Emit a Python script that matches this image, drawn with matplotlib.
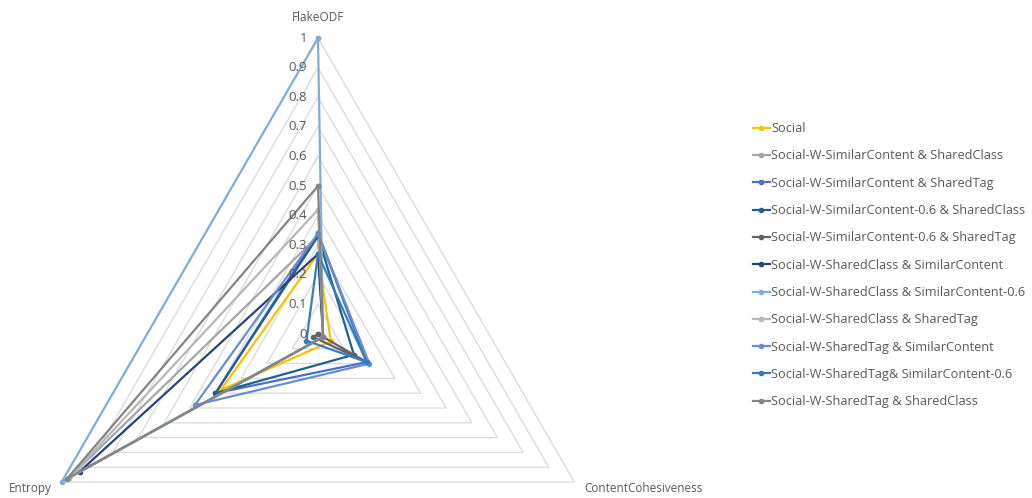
import numpy as np
import matplotlib.pyplot as plt

# axes of the radar chart
axes_names = ["FlakeODF", "ContentCohesiveness", "Entropy"]

social = [0.27, 0.05, 0.38]
simcontent_sharedclass = [0.33, 0.02, 0.97]
simcontent_sharedtag = [0.34, 0.19, 0.40]
simcontent06_sharedclass = [0.33, 0.14, 0.40]
simcontent06_sharedtag = [0.0, 0.19, 0.02]
sharedclass_simcontent = [0.27, 0.02, 0.93]
sharedclass_simcontent06 = [1.0, 0.02, 1.0]
sharedclass_sharedtag = [0.42, 0.02, 0.97]
sharedtag_simcontent = [0.34, 0.20, 0.48]
sharedtag_simcontent06 = [0.27, 0.19, 0.045]
sharedtag_sharedclass = [0.50, 0.02, 0.98]

series_names = [
    "Social",
    "Social-W-SimilarContent & SharedClass",
    "Social-W-SimilarContent & SharedTag",
    "Social-W-SimilarContent-0.6 & SharedClass",
    "Social-W-SimilarContent-0.6 & SharedTag",
    "Social-W-SharedClass & SimilarContent",
    "Social-W-SharedClass & SimilarContent-0.6",
    "Social-W-SharedClass & SharedTag",
    "Social-W-SharedTag & SimilarContent",
    "Social-W-SharedTag& SimilarContent-0.6",
    "Social-W-SharedTag & SharedClass",
]
series_values = [
    social, simcontent_sharedclass, simcontent_sharedtag, simcontent06_sharedclass,
    simcontent06_sharedtag, sharedclass_simcontent, sharedclass_simcontent06,
    sharedclass_sharedtag, sharedtag_simcontent, sharedtag_simcontent06,
    sharedtag_sharedclass,
]
colors = ["#FFC000", "#A5A5A5", "#4472C4", "#255E91", "#636363", "#264478",
          "#7CAFDD", "#B7B7B7", "#698ED0", "#327DC2", "#848484"]

ticks = [0, 0.1, 0.2, 0.3, 0.4, 0.5, 0.6, 0.7, 0.8, 0.9, 1]
tick_labels = ["0", "0.1", "0.2", "0.3", "0.4", "0.5", "0.6", "0.7", "0.8", "0.9", "1"]

plt.rcParams['font.family'] = ['Open Sans', 'DejaVu Sans']
txt = "#595959"

fig = plt.figure(figsize=(10.32, 4.98), dpi=100)
W, H = 1032, 498
cx, cy, R = 318, 334, 296
ax = fig.add_axes([(cx - R) / W, (H - cy - R) / H, 2 * R / W, 2 * R / H], projection='polar')
ax.set_theta_offset(np.pi / 2)
ax.set_theta_direction(-1)
ax.set_ylim(0, 1)
ax.set_axis_off()

theta = np.linspace(0, 2 * np.pi, len(axes_names), endpoint=False)
th_closed = np.append(theta, theta[0])

# triangular grid (no spokes)
for t in ticks[1:]:
    ax.plot(th_closed, [t] * 4, color="#D9D9D9", lw=0.9, zorder=1, clip_on=False)

# data series
for name, vals, c in zip(series_names, series_values, colors):
    v = np.append(vals, vals[0])
    ax.plot(th_closed, v, color=c, lw=1.6, marker='o', markersize=3,
            label=name, zorder=3, clip_on=False)

# radial tick labels
for t, lab in zip(ticks, tick_labels):
    ax.annotate(lab, xy=(0, t), xytext=(-8, 0), textcoords='offset points',
                ha='right', va='center', fontsize=9.5, color=txt)

# axis labels
ax.annotate(axes_names[0], xy=(theta[0], 1), xytext=(0, 15), textcoords='offset points',
            ha='center', va='center', fontsize=8.5, color=txt)
ax.annotate(axes_names[1], xy=(theta[1], 1), xytext=(7, -4.5), textcoords='offset points',
            ha='left', va='center', fontsize=8.5, color=txt)
ax.annotate(axes_names[2], xy=(theta[2], 1), xytext=(-7, -4.5), textcoords='offset points',
            ha='right', va='center', fontsize=8.5, color=txt)

fig.legend(loc='upper left', bbox_to_anchor=(748 / W, 1 - 117 / H), frameon=False,
           fontsize=9.2, labelcolor=txt, handlelength=1.3, handletextpad=0.1,
           labelspacing=1.12, borderaxespad=0)

fig.savefig("out.png", dpi=100)
